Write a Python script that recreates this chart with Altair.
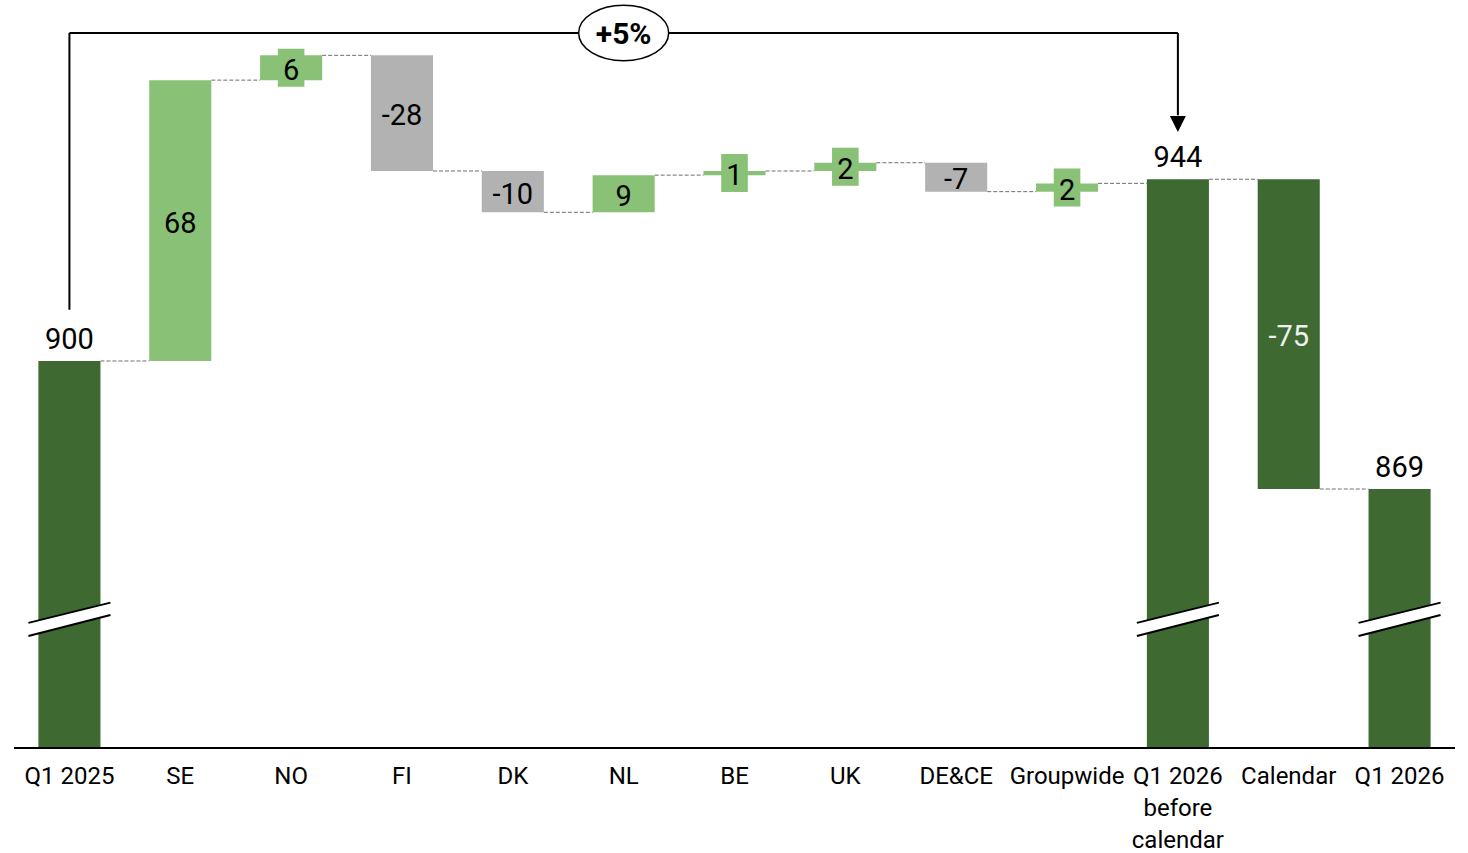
import altair as alt
import pandas as pd

# ---------------- data ----------------
categories = ["Q1 2025", "SE", "NO", "FI", "DK", "NL", "BE", "UK", "DE&CE",
              "Groupwide", "Q1 2026\nbefore\ncalendar", "Calendar", "Q1 2026"]
kinds = ["total", "pos", "pos", "neg", "neg", "pos", "pos", "pos", "neg",
         "pos", "total", "calendar", "total"]
values = [900, 68, 6, -28, -10, 9, 1, 2, -7, 2, 944, -75, 869]
value_labels = ["900", "68", "6", "-28", "-10", "9", "1", "2", "-7", "2",
                "944", "-75", "869"]
growth_label = "+5%"

# ---------------- layout constants ----------------
Y_MIN, Y_MAX = 806.3, 987.4
HALF = 0.28          # half bar width (in category units)
BOX_HALF_W = 0.12
BOX_HALF_H = 4.6
FONT = "Roboto"

DARK = "#3E6A32"
LIGHT = "#89C176"
GREY = "#B2B2B2"

# ---------------- build tables ----------------
rows = []
running = None
for i, (c, k, v, lab) in enumerate(zip(categories, kinds, values, value_labels)):
    if k == "total":
        start, end = Y_MIN, v
    else:
        start, end = running, running + v
    running = end
    rows.append(dict(i=i, cat=c, kind=k, v=v, label=lab,
                     x0=i - HALF, x1=i + HALF, ybase=Y_MIN,
                     start=start, end=end, mid=(start + end) / 2,
                     tcolor="#f0f0f0" if k == "calendar" else "black"))
df = pd.DataFrame(rows)

# connectors
conn = []
for a, b in zip(rows[:-1], rows[1:]):
    conn.append(dict(x0=a["i"] + HALF, x1=b["i"] - HALF, y=a["end"]))
conn_df = pd.DataFrame(conn)

# small-value label boxes
box_df = df[(df.kind == "pos") & (df.v.abs() < 8)].copy().reset_index(drop=True)
box_df["bx0"] = box_df.i - BOX_HALF_W
box_df["bx1"] = box_df.i + BOX_HALF_W
box_df["by0"] = box_df.mid - BOX_HALF_H
box_df["by1"] = box_df.mid + BOX_HALF_H

# axis breaks on total bars
brk_lines, brk_area = [], []
for r in rows:
    if r["kind"] != "total":
        continue
    i = r["i"]
    brk_lines.append(dict(x0=i - 0.37, x1=i + 0.37, y0=836.6, y1=841.5))
    brk_lines.append(dict(x0=i - 0.37, x1=i + 0.37, y0=833.4, y1=838.5))
    brk_area.append(dict(g="b%d" % i, x=i - 0.37, yu=836.6, yl=833.4))
    brk_area.append(dict(g="b%d" % i, x=i + 0.37, yu=841.5, yl=838.5))
brk_lines_df = pd.DataFrame(brk_lines)
brk_area_df = pd.DataFrame(brk_area)

xs = alt.Scale(domain=[-0.5, 12.5], nice=False, zero=False)
ys = alt.Scale(domain=[Y_MIN, Y_MAX], nice=False, zero=False)


def X(f):
    return alt.X(f, type="quantitative", scale=xs, axis=None)


def Y(f):
    return alt.Y(f, type="quantitative", scale=ys, axis=None)


color_scale = alt.Scale(domain=["total", "pos", "neg", "calendar"],
                        range=[DARK, LIGHT, GREY, DARK])

bars = alt.Chart(df).mark_rect().encode(
    x=X("x0"), x2="x1", y=Y("start"), y2="end",
    color=alt.Color("kind:N", scale=color_scale, legend=None),
)

boxes = alt.Chart(box_df).mark_rect(color=LIGHT).encode(
    x=X("bx0"), x2="bx1", y=Y("by0"), y2="by1"
)

connectors = alt.Chart(conn_df).mark_rule(
    color="#6e6e6e", strokeWidth=1, strokeDash=[4, 2]
).encode(x=X("x0"), x2="x1", y=Y("y"))

brk_fill = alt.Chart(brk_area_df).mark_area(color="white", opacity=1).encode(
    x=X("x"), y=Y("yu"), y2="yl", detail="g:N"
)
brk_rules = alt.Chart(brk_lines_df).mark_rule(color="black", strokeWidth=2).encode(
    x=X("x0"), x2="x1", y=Y("y0"), y2="y1"
)

delta_df = df[df.kind != "total"].reset_index(drop=True)
delta_text = alt.Chart(delta_df).mark_text(
    font=FONT, fontSize=29, baseline="middle", align="center", dy=3
).encode(
    x=X("i"), y=Y("mid"), text="label:N",
    color=alt.Color("tcolor:N", scale=None),
)

total_df = df[df.kind == "total"].reset_index(drop=True)
total_text = alt.Chart(total_df).mark_text(
    font=FONT, fontSize=29, baseline="alphabetic", align="center", dy=-12, color="black"
).encode(x=X("i"), y=Y("end"), text="label:N")

cat_text = alt.Chart(df).mark_text(
    font=FONT, fontSize=24, baseline="top", align="center", dy=17,
    lineBreak="\n", lineHeight=32, color="black"
).encode(x=X("i"), y=Y("ybase"), text="cat:N")

baseline = alt.Chart(pd.DataFrame({"a": [-0.5], "b": [12.5], "y": [Y_MIN]})).mark_rule(
    color="black", strokeWidth=2
).encode(x=X("a"), x2="b", y=Y("y"))

# growth bracket
i_from, i_to = 0, 10
y_top = 979.4
br_df = pd.DataFrame([
    dict(x0=i_from, x1=i_from, y0=912.4, y1=y_top),
    dict(x0=i_from, x1=i_to, y0=y_top, y1=y_top),
    dict(x0=i_to, x1=i_to, y0=y_top, y1=959.5),
])
bracket = alt.Chart(br_df).mark_rule(color="black", strokeWidth=2).encode(
    x=X("x0"), x2="x1", y=Y("y0"), y2="y1"
)
arrow = alt.Chart(pd.DataFrame({"x": [i_to], "y": [957.4]})).mark_point(
    shape="M-1,-1L1,-1L0,1Z", size=256, filled=True, color="black", opacity=1
).encode(x=X("x"), y=Y("y"))

ell_df = pd.DataFrame({"x": [(i_from + i_to) / 2], "y": [y_top], "t": [growth_label]})
ellipse = alt.Chart(ell_df).mark_point(
    shape="M-1,0A1,0.615,0,1,1,1,0A1,0.615,0,1,1,-1,0Z", size=90 * 90,
    filled=True, fill="white", stroke="black", strokeWidth=1.5, opacity=1
).encode(x=X("x"), y=Y("y"))
ell_text = alt.Chart(ell_df).mark_text(
    font=FONT, fontSize=30, fontWeight="bold", baseline="middle", align="center",
    color="black", dy=2
).encode(x=X("x"), y=Y("y"), text="t:N")

chart = alt.layer(
    bars, boxes, connectors, brk_fill, brk_rules, baseline,
    delta_text, total_text, cat_text, bracket, arrow, ellipse, ell_text
).properties(
    width=1441, height=748,
    autosize=alt.AutoSizeParams(type="none"),
    padding={"left": 14, "top": 0, "right": 13, "bottom": 105},
).configure_view(strokeWidth=0)

chart.save("out.html", embed_options={"renderer": "svg", "actions": False})
